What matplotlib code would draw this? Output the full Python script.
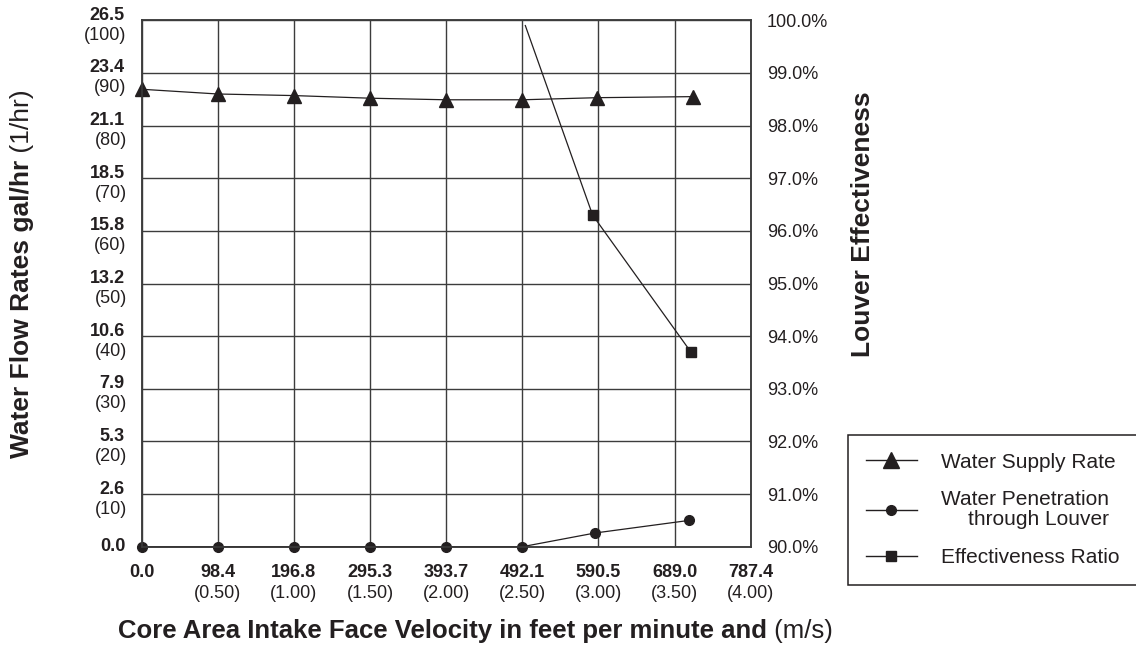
import matplotlib
matplotlib.use("Agg")
import matplotlib.pyplot as plt
from matplotlib.lines import Line2D

plt.rcParams["font.family"] = ["Liberation Sans", "DejaVu Sans"]

INK = "#231f20"
GRID = "#3c3c3c"

# velocity ticks: feet per minute and (m/s)
fpm_ticks = [0.0, 98.4, 196.8, 295.3, 393.7, 492.1, 590.5, 689.0, 787.4]
ms_ticks = ["", "(0.50)", "(1.00)", "(1.50)", "(2.00)", "(2.50)", "(3.00)", "(3.50)", "(4.00)"]

# left axis ticks: gal/hr and (l/hr)
lph_ticks = [0, 10, 20, 30, 40, 50, 60, 70, 80, 90, 100]
gal_ticks = ["0.0", "2.6", "5.3", "7.9", "10.6", "13.2", "15.8", "18.5", "21.1", "23.4", "26.5"]

# right axis ticks: louver effectiveness (%)
eff_ticks = [90, 91, 92, 93, 94, 95, 96, 97, 98, 99, 100]

# series
supply_x = [0.0, 98.4, 196.8, 295.3, 393.7, 492.1, 589, 713]
supply_lph = [86.9, 86.0, 85.7, 85.2, 84.9, 84.9, 85.3, 85.5]

pen_x = [0.0, 98.4, 196.8, 295.3, 393.7, 492.1, 586, 708]
pen_lph = [0, 0, 0, 0, 0, 0, 2.6, 5.0]

eff_x = [496, 583, 710]
eff_pct = [99.9, 96.3, 93.7]

fig = plt.figure(figsize=(11.36, 6.45), dpi=100)
ax = fig.add_axes([141.7 / 1136, 1 - 546.7 / 645, 609 / 1136, 526.4 / 645])
ax2 = ax.twinx()

ax.set_xlim(0, 787.4)
ax.set_ylim(0, 100)
ax2.set_ylim(90, 100)

ax.set_xticks(fpm_ticks)
ax.set_yticks(lph_ticks)
ax.set_xticklabels([])
ax.set_yticklabels([])
ax.tick_params(length=0)
ax.grid(True, color=GRID, lw=1.0)
ax.set_axisbelow(True)

ax2.set_yticks(eff_ticks)
ax2.set_yticklabels([f"{v:.1f}%" for v in eff_ticks], fontsize=13, color=INK)
ax2.tick_params(length=0, pad=11.5)

for a in (ax, ax2):
    for s in a.spines.values():
        s.set_color(GRID)
        s.set_linewidth(1.1)

ax.plot(supply_x, supply_lph, color=INK, lw=0.9, marker="^", ms=10, zorder=3, clip_on=False)
ax.plot(pen_x, pen_lph, color=INK, lw=0.9, marker="o", ms=7, zorder=3, clip_on=False)
ax2.plot(eff_x, eff_pct, color=INK, lw=0.9, marker="s", ms=6.5, markevery=[1, 2], zorder=3)

# x tick labels: bold fpm over regular m/s
xt = ax.get_xaxis_transform()
for x, m in zip(fpm_ticks, ms_ticks):
    ax.annotate(f"{x:.1f}", xy=(x, 0), xycoords=xt, xytext=(0, -26), textcoords="offset pixels",
                ha="center", va="center", fontsize=13, fontweight="bold", color=INK)
    if m:
        ax.annotate(m, xy=(x, 0), xycoords=xt, xytext=(0, -47), textcoords="offset pixels",
                    ha="center", va="center", fontsize=13, color=INK)

# y tick labels: bold gal/hr over regular l/hr
yt = ax.get_yaxis_transform()
for v, g in zip(lph_ticks, gal_ticks):
    if v == 0:
        ax.annotate(g, xy=(0, v), xycoords=yt, xytext=(-16, 0), textcoords="offset pixels",
                    ha="right", va="center", fontsize=13, fontweight="bold", color=INK)
        continue
    ax.annotate(g, xy=(0, v), xycoords=yt, xytext=(-17, 5), textcoords="offset pixels",
                ha="right", va="center", fontsize=13, fontweight="bold", color=INK)
    ax.annotate(f"({v})", xy=(0, v), xycoords=yt, xytext=(-15, -15), textcoords="offset pixels",
                ha="right", va="center", fontsize=13, color=INK)

# axis titles, bold part followed by regular units
t1 = fig.text(118 / 1136, 1 - 637.7 / 645, "Core Area Intake Face Velocity in feet per minute and",
              fontsize=18.5, fontweight="bold", ha="left", va="baseline", color=INK)
ax.annotate(" (m/s)", xy=(1, 0), xycoords=t1, ha="left", va="bottom", fontsize=18.5, color=INK,
            annotation_clip=False)

t2 = fig.text(22 / 1136, 1 - 458 / 645, "Water Flow Rates gal/hr", rotation=90,
              fontsize=19, fontweight="bold", ha="center", va="bottom", color=INK)
ax.annotate(" (1/hr)", xy=(0.5, 1), xycoords=t2, rotation=90, ha="center", va="bottom",
            fontsize=19, color=INK, annotation_clip=False)

fig.text(863 / 1136, 1 - 224 / 645, "Louver Effectiveness", rotation=90,
         fontsize=19, fontweight="bold", ha="center", va="center", color=INK)

handles = [
    Line2D([], [], color=INK, lw=1, marker="^", ms=12),
    Line2D([], [], color=INK, lw=1, marker="o", ms=7),
    Line2D([], [], color=INK, lw=1, marker="s", ms=7),
]
labels = ["Water Supply Rate", "Water Penetration\nthrough Louver", "Effectiveness Ratio"]
leg = fig.legend(handles, labels, loc="upper left",
                 bbox_to_anchor=(848 / 1136, 1 - 435 / 645, 300 / 1136, 0),
                 bbox_transform=fig.transFigure, mode="expand", borderaxespad=0,
                 fontsize=15, handlelength=2.45, handletextpad=1.15, borderpad=0.85,
                 labelspacing=0.9, fancybox=False, framealpha=1)
leg.get_frame().set_edgecolor(INK)
leg.get_frame().set_linewidth(1.1)
for t in leg.get_texts():
    t.set_color(INK)
leg.get_texts()[1].set_multialignment("right")
leg.get_texts()[1].set_linespacing(1.05)

fig.savefig("out.png", dpi=100)
